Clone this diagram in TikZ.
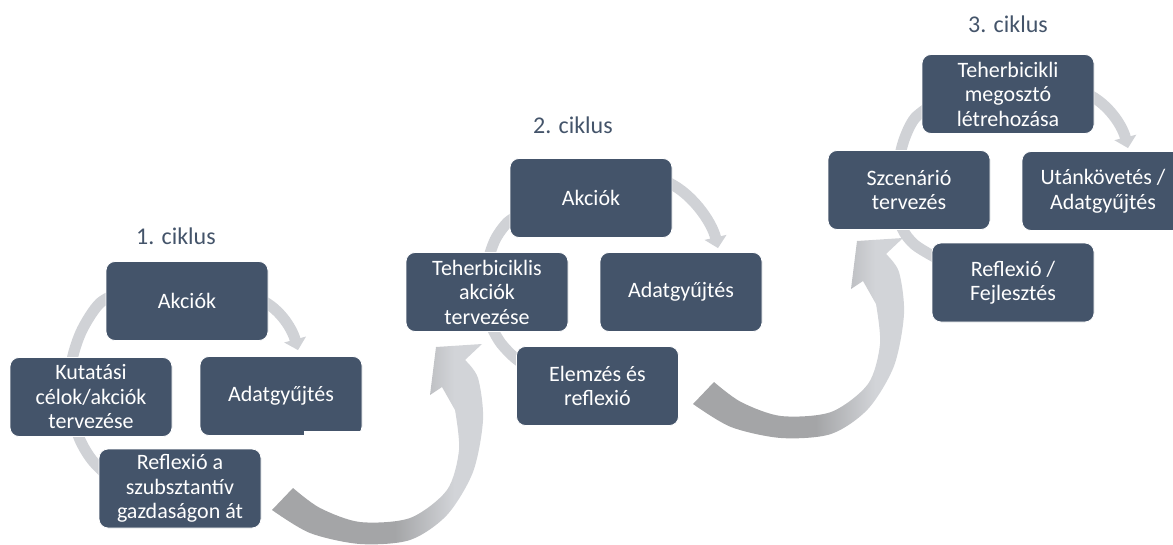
\documentclass[tikz,border=0pt]{standalone}
\usepackage{fontspec}
\setmainfont{Carlito}
\usetikzlibrary{arrows.meta,calc}
\definecolor{boxfill}{HTML}{44546A}
\definecolor{ringgray}{HTML}{D0D2D6}
\definecolor{bigdark}{HTML}{A4A5A7}
\definecolor{biglight}{HTML}{D2D4D8}
\definecolor{titlecol}{HTML}{44546A}
\pgfdeclarehorizontalshading{bigshade}{100bp}{color(0bp)=(bigdark); color(25bp)=(bigdark); color(54bp)=(bigdark); color(68bp)=(biglight); color(100bp)=(biglight)}
\pgfdeclarelayer{bg}
\pgfsetlayers{bg,main}
\tikzset{
 cbox/.style={draw=white, line width=0.8pt, fill=boxfill, rounded corners=9pt, text=white, align=center, inner sep=0pt, minimum width=162pt, minimum height=79pt, font=\fontsize{22}{24.5}\selectfont},
 ctitle/.style={text=titlecol, font=\fontsize{24}{28}\selectfont, inner sep=0pt},
 ring/.style={draw=ringgray, line width=11pt},
 ringarr/.style={ring, -{Triangle[width=22pt,length=11pt]}},
 bigarrow/.style={shading=bigshade, shading angle=0}
}
\begin{document}
\begin{tikzpicture}[x=1pt,y=-1pt]
\useasboundingbox (0,0) rectangle (1173,544);

% big connecting arrows
\shade[bigarrow] plot[smooth] coordinates {(272,510) (310,533) (360,544) (410,540) (447,515) (473,472) (483,420) (478,378) (465,360)} -- (482,344) -- (436,347) -- (430,395) -- (442,387) -- plot[smooth] coordinates {(455,410) (459,450) (447,490) (410,518) (360,522) (320,508) (293,488)} -- cycle;
\begin{scope}[shift={(421,-106)}]
\shade[bigarrow] plot[smooth] coordinates {(272,510) (310,533) (360,544) (410,540) (447,515) (473,472) (483,420) (478,378) (465,360)} -- (482,344) -- (436,347) -- (430,395) -- (442,387) -- plot[smooth] coordinates {(455,410) (459,450) (447,490) (410,518) (360,522) (320,508) (293,488)} -- cycle;
\end{scope}

% cycle rings (left parts)
\draw[ring] plot[smooth] coordinates {(125,290) (100,303) (82,330) (72,360) (69,397) (78,435) (92,460) (115,483)};
\draw[ring] plot[smooth] coordinates {(525,212) (508,222) (495,240) (487,265) (485,292) (490,322) (500,342) (515,358) (530,368)};
\draw[ring] plot[smooth] coordinates {(935,103) (915,118) (904,140) (897,170) (896,200) (902,228) (915,245) (940,260)};

% titles
\node[ctitle] (t1) at (176,236) {1. ciklus};
\node[ctitle] (t2) at (573,125) {2. ciklus};
\node[ctitle] (t3) at (1008,24) {3. ciklus};

% cycle 1
\node[cbox] (a1) at (187,301) {Akciók};
\node[cbox] (k1) at (91,397) {Kutatási\\célok/akciók\\tervezése};
\node[cbox] (d1) at (281,396) {Adatgyűjtés};
\fill[white] (303.5,430.5) rectangle (364,437);
\node[cbox] (r1) at (180,488.5) {Reflexió a\\szubsztantív\\gazdaságon át};

% cycle 2
\node[cbox] (a2) at (591,198) {Akciók};
\node[cbox] (k2) at (487,292) {Teherbiciklis\\akciók\\tervezése};
\node[cbox] (d2) at (681,292) {Adatgyűjtés};
\node[cbox] (e2) at (597.5,386) {Elemzés és\\reflexió};

% cycle 3
\node[cbox, minimum width=172pt] (a3) at (1008,94) {Teherbicikli\\megosztó\\létrehozása};
\node[cbox] (s3) at (909,190) {Szcenárió\\tervezés};
\node[cbox] (u3) at (1103,191) {Utánkövetés /\\Adatgyűjtés};
\node[cbox] (f3) at (1013,282.5) {Reflexió /\\Fejlesztés};

% ring arrows (right parts), behind the boxes
\begin{pgfonlayer}{bg}
\draw[ringarr] ($(a1.east)+(-12,-3)$) .. controls +(22,8) and +(-6,-22) .. ($(d1.north)+(17,-6)$);
\draw[ringarr] ($(a2.east)+(-10,-18)$) .. controls +(28,10) and +(-6,-26) .. ($(d2.north)+(37,-4)$);
\draw[ringarr] ($(a3.east)+(-12,-2)$) .. controls +(23,8) and +(-6,-24) .. ($(u3.north)+(25,-3)$);
\end{pgfonlayer}
\end{tikzpicture}
\end{document}
